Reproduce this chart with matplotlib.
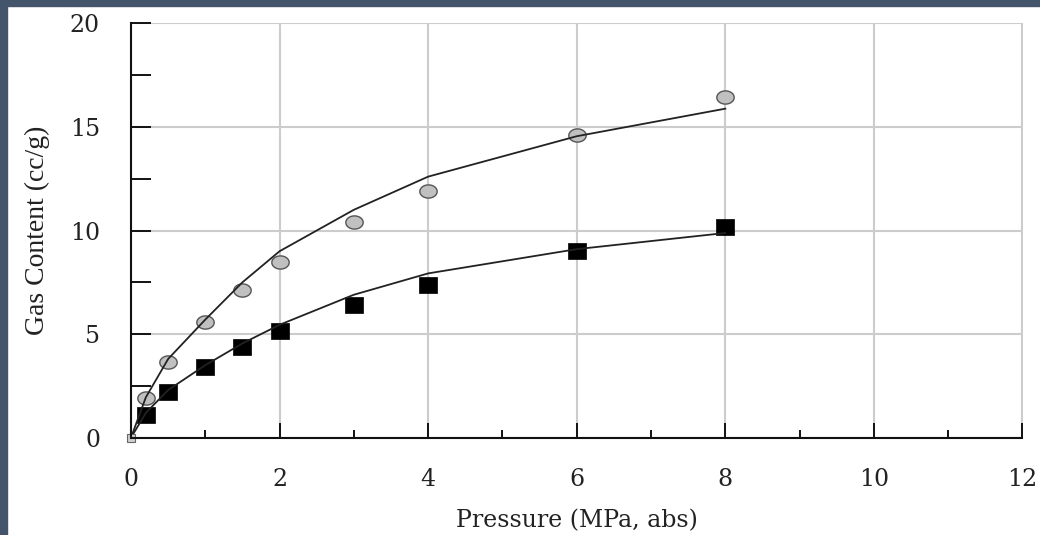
import numpy as np
import matplotlib
matplotlib.use("Agg")
import matplotlib.pyplot as plt
from matplotlib.path import Path
from matplotlib.patches import Rectangle
from matplotlib.ticker import MultipleLocator

# ---- data ----
pressure = [0.2, 0.5, 1.0, 1.5, 2.0, 3.0, 4.0, 6.0, 8.0]
gas_circles = [1.93, 3.66, 5.56, 7.15, 8.48, 10.39, 11.89, 14.61, 16.46]
gas_squares = [1.09, 2.19, 3.42, 4.39, 5.16, 6.39, 7.37, 9.03, 10.18]

model_pressure = [0.0, 0.2, 0.5, 1.0, 1.5, 2.0, 3.0, 4.0, 6.0, 8.0]
model_upper = [0.0, 1.95, 3.8, 5.7, 7.5, 9.0, 11.0, 12.6, 14.55, 15.88]
model_lower = [0.0, 1.2, 2.3, 3.5, 4.55, 5.45, 6.9, 7.93, 9.1, 9.88]

origin_p = [0.0]
origin_v = [0.0]

x_ticks = [0, 2, 4, 6, 8, 10, 12]
y_ticks = [0, 5, 10, 15, 20]

# ---- figure ----
fig = plt.figure(figsize=(10.4, 5.35), dpi=100)
fig.patch.set_facecolor("white")
ax = fig.add_axes([131 / 1040, 97.3 / 535, 891.5 / 1040, 414.4 / 535])

# slide-style border (left and top)
border = "#44546a"
fig.add_artist(Rectangle((0, 0), 7 / 1040, 1, transform=fig.transFigure,
                         color=border, zorder=10))
fig.add_artist(Rectangle((0, 1 - 6 / 535), 1, 6 / 535, transform=fig.transFigure,
                         color=border, zorder=10))

# custom (slightly wide) markers
t = np.linspace(0, 2 * np.pi, 60)
ellipse = Path(np.column_stack([np.cos(t), 0.76 * np.sin(t)]), closed=True)
rect = Path([(-1, -0.9), (1, -0.9), (1, 0.9), (-1, 0.9), (-1, -0.9)], closed=True)

ax.plot(pressure, gas_circles, linestyle="none", marker=ellipse, ms=12.5,
        mfc="#c0c0c0", mec="#555555", mew=1.0, zorder=3)
ax.plot(pressure, gas_squares, linestyle="none", marker=rect, ms=12.3,
        mfc="black", mec="black", mew=0.5, zorder=3)
ax.plot(model_pressure, model_upper, color="#222222", lw=1.3, zorder=4)
ax.plot(model_pressure, model_lower, color="#222222", lw=1.3, zorder=4)
ax.plot(origin_p, origin_v, linestyle="none", marker="s", ms=6, mfc="#d0d0d0",
        mec="#666666", mew=0.8, zorder=5, clip_on=False)

ax.set_xlim(0, 12)
ax.set_ylim(0, 20)

ax.set_xticks(x_ticks)
ax.set_yticks(y_ticks)
ax.xaxis.set_minor_locator(MultipleLocator(1))
ax.yaxis.set_minor_locator(MultipleLocator(2.5))

ax.grid(True, which="major", color="#cccccc", lw=1.5, zorder=0)
ax.set_axisbelow(True)

for s in ["top", "right"]:
    ax.spines[s].set_visible(False)
for s in ["left", "bottom"]:
    ax.spines[s].set_color("#111111")
    ax.spines[s].set_linewidth(1.5)
    ax.spines[s].set_zorder(6)

tick_font = {"family": "DejaVu Serif", "size": 17}
ax.tick_params(axis="y", which="both", direction="in", length=14.4, width=1.4,
               color="#111111", pad=22.3, left=True, right=False)
ax.tick_params(axis="x", which="major", direction="in", length=10.8, width=1.4,
               color="#111111", pad=21.6, bottom=True, top=False)
ax.tick_params(axis="x", which="minor", direction="in", length=5.8, width=1.4,
               color="#111111", bottom=True, top=False)
ax.set_xticklabels([str(v) for v in x_ticks], fontdict=tick_font, color="#222222")
ax.set_yticklabels([str(v) for v in y_ticks], fontdict=tick_font, color="#222222")

ax.set_xlabel("Pressure (MPa, abs)", family="DejaVu Serif", size=17, color="#222222")
ax.xaxis.set_label_coords(0.5, -0.172)
ax.set_ylabel("Gas Content (cc/g)", family="Liberation Serif", size=20, color="#222222")
ax.yaxis.set_label_coords(-0.0909, 0.5)

fig.savefig("out.png", dpi=100)
